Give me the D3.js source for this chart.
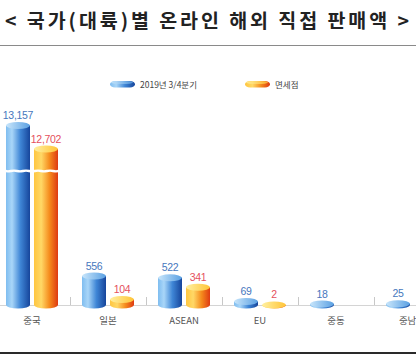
<!DOCTYPE html>
<html>
<head>
<meta charset="utf-8">
<script src="https://cdn.jsdelivr.net/npm/d3@7"></script>
<style>
  body { margin: 0; background: #fff; }
  svg { display: block; }
</style>
</head>
<body>
<svg id="chart" width="416" height="362"></svg>
<script>
const WIDTH = 416
const HEIGHT = 362
const BASE_Y = 305

// data
const categories = ["중국", "일본", "ASEAN", "EU", "중동", "중남미"]
const seriesNames = ["2019년 3/4분기", "면세점"]
const q3Values = [13157, 556, 522, 69, 18, 25]
const dutyFreeValues = [12702, 104, 341, 2, null, null]

const svg = d3.select("#chart")
const defs = svg.append("defs")

// gradients for the cylinders
function hGrad(id, stops) {
  let g = defs.append("linearGradient").attr("id", id)
    .attr("x1", "0%").attr("x2", "100%").attr("y1", "0%").attr("y2", "0%")
  stops.forEach(s => g.append("stop").attr("offset", s[0]).attr("stop-color", s[1]))
}
hGrad("blueBody", [["0%", "#7fbdf0"], ["25%", "#a9d6f8"], ["60%", "#3f86d6"], ["100%", "#16459b"]])
hGrad("blueTop", [["0%", "#c9e6fb"], ["100%", "#5aa0e2"]])
hGrad("orangeBody", [["0%", "#ffc640"], ["30%", "#ffd866"], ["65%", "#f58a1c"], ["100%", "#de3a12"]])
hGrad("orangeTop", [["0%", "#fff0a0"], ["100%", "#ffc437"]])

const styles = [
  {body: "url(#blueBody)", top: "url(#blueTop)", label: "#4677bd"},
  {body: "url(#orangeBody)", top: "url(#orangeTop)", label: "#e5505c"}
]

// title
svg.append("text")
  .attr("x", 5).attr("y", 28)
  .attr("textLength", 404).attr("lengthAdjust", "spacing")
  .attr("font-family", "Noto Sans CJK KR")
  .attr("font-weight", "bold")
  .attr("font-size", 19.5)
  .attr("fill", "#222")
  .text("< 국가(대륙)별 온라인 해외 직접 판매액 >")

svg.append("line")
  .attr("x1", 0).attr("x2", WIDTH).attr("y1", 45.5).attr("y2", 45.5)
  .attr("stroke", "#8a8a8a").attr("stroke-width", 1.2)

svg.append("line")
  .attr("x1", 0).attr("x2", WIDTH).attr("y1", 353).attr("y2", 353)
  .attr("stroke", "#2a2a2a").attr("stroke-width", 2)

// scales
let xScale = d3.scaleBand()
  .domain(categories)
  .range([-6, 450])

// broken axis: same slope both sides of the break
const K = 0.052
const BREAK_LO = 2550, BREAK_HI = 12300, TOP_V = 14000
const BREAK_Y = 172
let yScale = d3.scaleLinear()
  .domain([0, BREAK_LO, BREAK_HI, TOP_V])
  .range([BASE_Y, BASE_Y - K * BREAK_LO, BREAK_Y - 2, BREAK_Y - 2 - K * (TOP_V - BREAK_HI)])

// baseline and group dividers
svg.append("line")
  .attr("x1", 0).attr("x2", WIDTH).attr("y1", BASE_Y + 0.5).attr("y2", BASE_Y + 0.5)
  .attr("stroke", "#d4d4d4")

svg.append("g").selectAll("line")
  .data(categories.slice(1))
  .join("line")
  .attr("x1", d => xScale(d) + 0.5).attr("x2", d => xScale(d) + 0.5)
  .attr("y1", BASE_Y - 8).attr("y2", BASE_Y)
  .attr("stroke", "#c8c8c8")

// category labels
svg.append("g").selectAll("text")
  .data(categories)
  .join("text")
  .attr("x", d => xScale(d) + xScale.bandwidth() / 2)
  .attr("y", 324)
  .attr("text-anchor", "middle")
  .attr("font-family", "Noto Sans CJK KR")
  .attr("font-size", 9.5)
  .attr("fill", "#555")
  .text(d => d)

const BAR_W = 24
const RY = 3.5

let bars = []
categories.forEach((c, i) => {
  let center = xScale(c) + xScale.bandwidth() / 2
  bars.push({cat: c, s: 0, v: q3Values[i], x0: center - 26})
  if (dutyFreeValues[i] != null) bars.push({cat: c, s: 1, v: dutyFreeValues[i], x0: center + 2})
})

let barG = svg.append("g")
bars.forEach(b => {
  let yTop = yScale(b.v)
  let x0 = b.x0, x1 = b.x0 + BAR_W, cx = b.x0 + BAR_W / 2
  let st = styles[b.s]
  // body with rounded bottom
  barG.append("path")
    .attr("d", `M${x0},${yTop} L${x0},${BASE_Y} A${BAR_W / 2},${RY} 0 0 0 ${x1},${BASE_Y} L${x1},${yTop} Z`)
    .attr("fill", st.body)
  // top cap
  barG.append("ellipse")
    .attr("cx", cx).attr("cy", yTop)
    .attr("rx", BAR_W / 2).attr("ry", RY)
    .attr("fill", st.top)
  // value label
  barG.append("text")
    .attr("x", cx).attr("y", yTop - RY - 3)
    .attr("text-anchor", "middle")
    .attr("font-family", "Arial, Liberation Sans, sans-serif")
    .attr("font-size", 10.5)
    .attr("letter-spacing", -0.3)
    .attr("fill", st.label)
    .text(d3.format(",")(b.v))
})

// wavy break across the 중국 bars
let chinaX = xScale("중국")
let waveX = d3.range(0, 11).map(i => chinaX + 8 + i * 6)
let wave = d3.line()
  .x(d => d)
  .y((d, i) => BREAK_Y - 1 + (i % 2 === 0 ? -1.2 : 1.2))
  .curve(d3.curveBasis)
svg.append("path")
  .attr("d", wave(waveX))
  .attr("fill", "none")
  .attr("stroke", "#fff")
  .attr("stroke-width", 2.4)

// legend
const legendX = [110, 245]
let legend = svg.append("g")
seriesNames.forEach((name, i) => {
  let st = styles[i]
  legend.append("rect")
    .attr("x", legendX[i]).attr("y", 81)
    .attr("width", 25).attr("height", 6.5)
    .attr("rx", 5).attr("ry", 3.2)
    .attr("fill", st.body)
  legend.append("ellipse")
    .attr("cx", legendX[i] + 12).attr("cy", 82.5)
    .attr("rx", 11).attr("ry", 1.6)
    .attr("fill", st.top).attr("opacity", 0.8)
  legend.append("text")
    .attr("x", legendX[i] + 30).attr("y", 87.5)
    .attr("font-family", "Noto Sans CJK KR")
    .attr("font-size", 8.5)
    .attr("fill", "#444")
    .text(name)
})
</script>
</body>
</html>
